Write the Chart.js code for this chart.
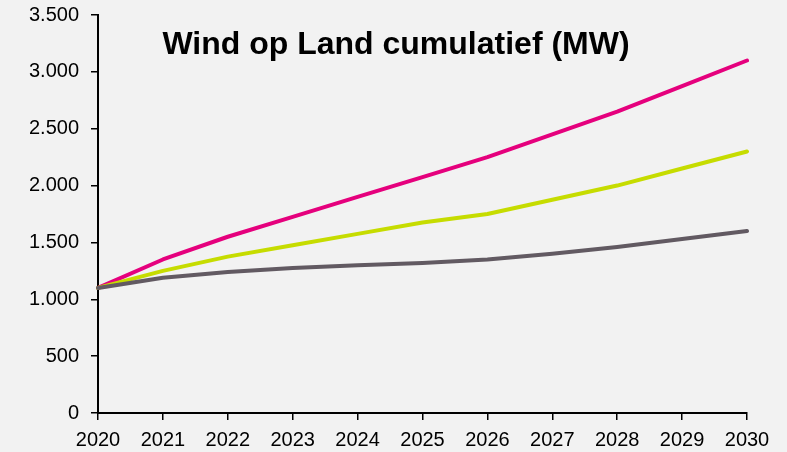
<!DOCTYPE html>
<html>
<head>
<meta charset="utf-8">
<script src="https://cdn.jsdelivr.net/npm/chart.js@4/dist/chart.umd.min.js"></script>
<style>
    html, body { margin: 0; padding: 0; background: #f2f2f2; }
    #wrap { position: relative; width: 787px; height: 452px; }
    #title {
        position: absolute; left: 0; width: 792px; top: 27px;
        text-align: center; font: bold 32px "Liberation Sans", Arial, sans-serif;
        line-height: 32px; color: #000; white-space: nowrap; pointer-events: none;
    }
</style>
</head>
<body>
<div id="wrap">
    <canvas id="chart" width="787" height="452"></canvas>
    <div id="title">Wind op Land cumulatief (MW)</div>
</div>
<script>
// Chart data
const years = ['2020', '2021', '2022', '2023', '2024', '2025', '2026', '2027', '2028', '2029', '2030'];
const seriesHigh = [1100, 1350, 1550, 1725, 1900, 2075, 2250, 2450, 2650, 2875, 3100];
const seriesMid = [1100, 1250, 1375, 1475, 1575, 1675, 1750, 1875, 2000, 2150, 2300];
const seriesLow = [1100, 1190, 1240, 1275, 1300, 1320, 1350, 1400, 1460, 1530, 1600];
const yTicks = [0, 500, 1000, 1500, 2000, 2500, 3000, 3500];

// Format numbers with a dot as thousands separator
function formatNl(v) {
    return String(v).replace(/\B(?=(\d{3})+(?!\d))/g, '.');
}

function lineSet(data, color, order) {
    return {
        data: data,
        borderColor: color,
        borderWidth: 4,
        borderCapStyle: 'round',
        borderJoinStyle: 'round',
        pointRadius: 0,
        tension: 0,
        fill: false,
        order: order
    };
}

const ctx = document.getElementById('chart').getContext('2d');
new Chart(ctx, {
    type: 'line',
    data: {
        labels: years,
        datasets: [
            lineSet(seriesHigh, '#E5007D', 3),
            lineSet(seriesMid, '#C6DC00', 2),
            lineSet(seriesLow, '#625A62', 1)
        ]
    },
    options: {
        responsive: false,
        animation: false,
        layout: { padding: { top: 15, right: 40, left: 0, bottom: 0 } },
        plugins: {
            legend: { display: false },
            tooltip: { enabled: false }
        },
        scales: {
            x: {
                offset: false,
                grid: { display: true, drawOnChartArea: false, drawTicks: true, tickLength: 7, color: '#000', lineWidth: 1.5 },
                border: { display: true, color: '#000', width: 2 },
                ticks: { color: '#000', font: { family: 'Liberation Sans', size: 20 }, padding: 8, maxRotation: 0, autoSkip: false },
                afterFit: function(scale) { scale.height = 39; }
            },
            y: {
                min: 0,
                max: 3500,
                afterBuildTicks: function(scale) { scale.ticks = yTicks.map(v => ({ value: v })); },
                grid: { display: true, drawOnChartArea: false, drawTicks: true, tickLength: 7, color: '#000', lineWidth: 1.5 },
                border: { display: true, color: '#000', width: 2 },
                ticks: { color: '#000', font: { family: 'Liberation Sans', size: 20 }, padding: 12, callback: v => formatNl(v) },
                afterFit: function(scale) {
                    scale.width = 98;
                    scale.paddingTop = 0;
                    scale.paddingBottom = 0;
                }
            }
        }
    }
});
</script>
</body>
</html>
